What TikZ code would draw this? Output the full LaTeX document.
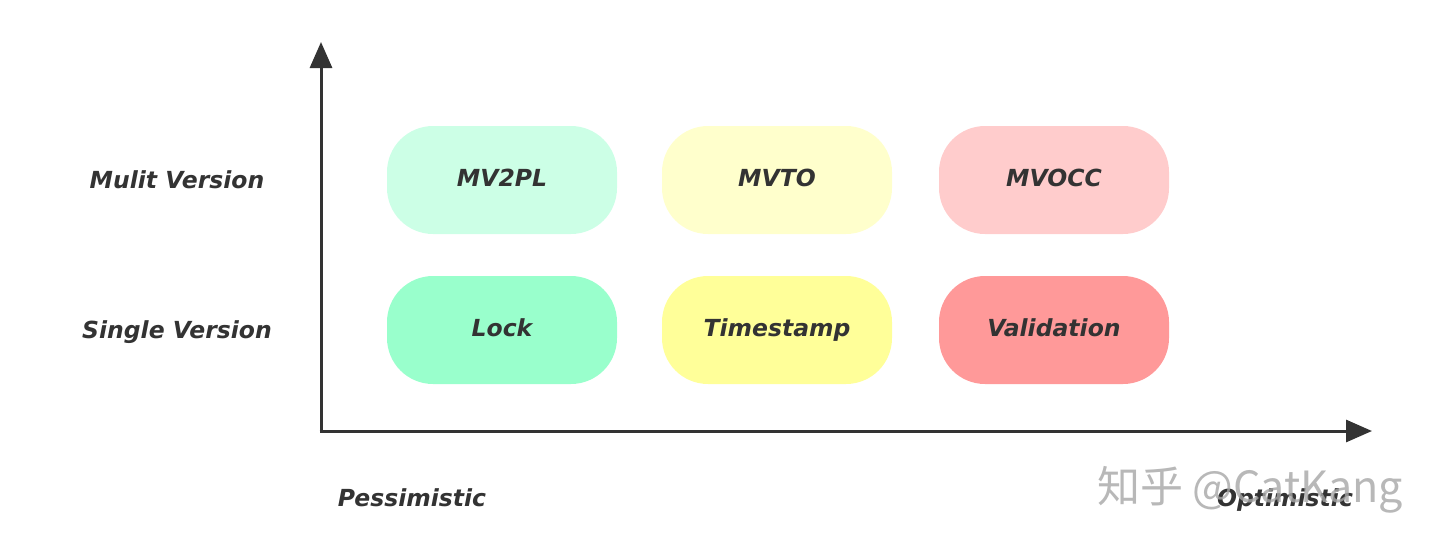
\documentclass[tikz,border=0pt]{standalone}
\usepackage{fontspec}
\setmainfont{DejaVu Sans}
\newfontfamily\cjkfont{Noto Sans CJK SC}
\usetikzlibrary{arrows.meta}
\definecolor{ink}{HTML}{333333}
\definecolor{mvpl}{HTML}{CCFFE6}
\definecolor{mvto}{HTML}{FFFFCC}
\definecolor{mvocc}{HTML}{FFCCCC}
\definecolor{lockc}{HTML}{99FFCC}
\definecolor{tsc}{HTML}{FFFF99}
\definecolor{valc}{HTML}{FF9999}
\tikzset{
  txt/.style={font=\fontsize{23.5}{28}\selectfont\bfseries\itshape, text=ink,
    text height=17pt, text depth=5pt},
  pill/.style={txt, rounded corners=46pt, minimum width=230pt, minimum height=108pt,
    inner sep=0pt},
  lab/.style={txt, inner sep=0pt},
  axis/.style={draw=ink, line width=3pt, -{Triangle[width=22pt,length=26pt]}},
}
\begin{document}
\begin{tikzpicture}[x=1pt,y=-1pt]
\useasboundingbox (0,0) rectangle (1440,558);
\coordinate (o) at (321,431);
\coordinate (ytop) at (321,42);
\coordinate (xend) at (1372,431);
\draw[axis] ([yshift=1.5pt]o) -- (ytop);
\draw[axis] ([xshift=-1.5pt]o) -- (xend);
\node[pill, fill=mvpl] (mv2pl) at (502,180) {MV2PL};
\node[pill, fill=mvto] (mvto) at (777,180) {MVTO};
\node[pill, fill=mvocc] (mvocc) at (1054,180) {MVOCC};
\node[pill, fill=lockc] (lock) at (502,330) {Lock};
\node[pill, fill=tsc] (ts) at (777,330) {Timestamp};
\node[pill, fill=valc] (val) at (1054,330) {Validation};
\node[lab] (multi) at (177,182) {Mulit Version};
\node[lab] (single) at (177,332) {Single Version};
\node[lab] (pess) at (412,500) {Pessimistic};
\node[lab] (opt) at (1285,500) {Optimistic};
\node[text=black!35, opacity=0.8, font=\cjkfont\fontsize{43}{46}\selectfont, inner sep=0pt] (wm) at (1250,490) {知乎 @CatKang};
\end{tikzpicture}
\end{document}
